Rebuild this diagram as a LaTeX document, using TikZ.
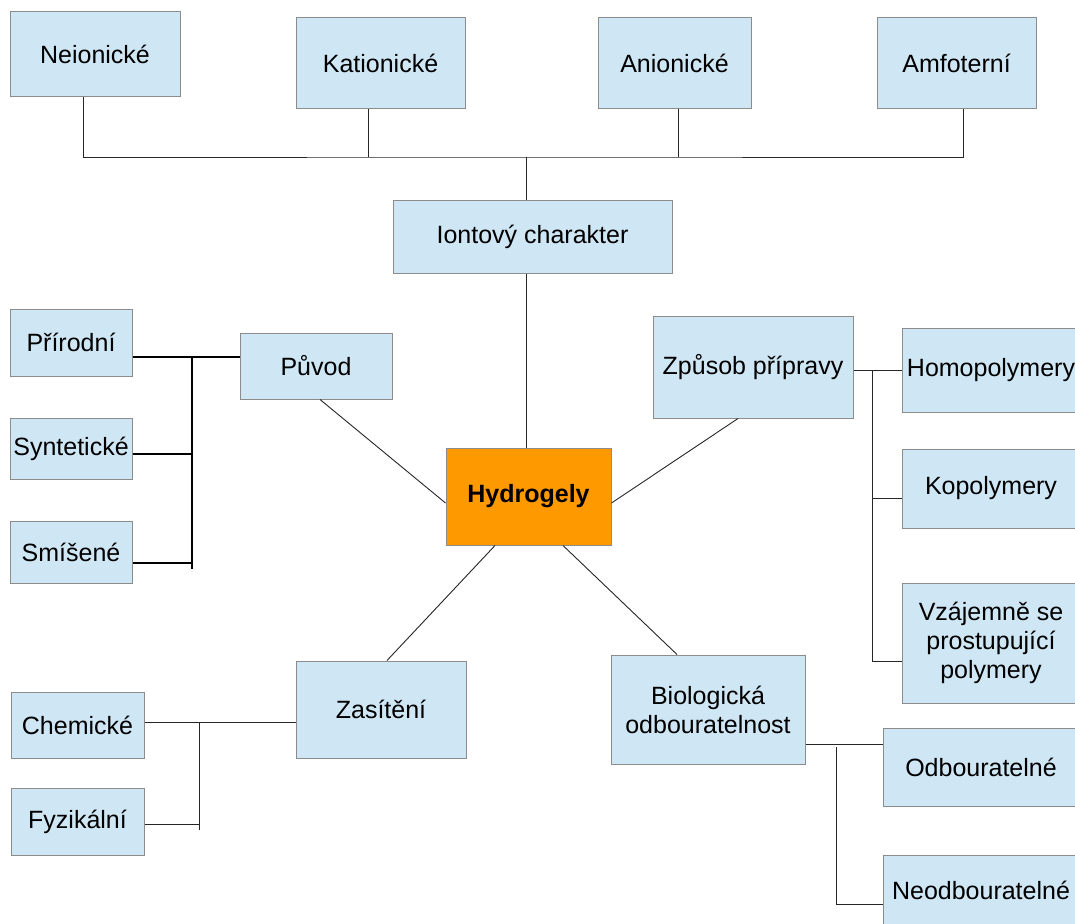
\documentclass[tikz,border=0pt]{standalone}
\usepackage{fontspec}
\setmainfont{Liberation Sans}
\definecolor{boxblue}{RGB}{207,230,244}
\definecolor{boxedge}{RGB}{140,140,140}
\definecolor{hydroorange}{RGB}{255,153,0}
\tikzset{
  pojem/.style={draw=boxedge, line width=1pt, fill=boxblue, inner sep=0pt, align=center, font=\fontsize{25}{29}\selectfont},
  spoj/.style={line width=0.9pt, black!85},
  zavorka/.style={line width=1.6pt, black},
}
\begin{document}
\begin{tikzpicture}[x=1pt,y=-1pt]
  \useasboundingbox (0,0) rectangle (1075,923);
  \fill[white] (0,0) rectangle (1075,923);
  \clip (0,0) rectangle (1075,923);

  %%%%%%% NODES
  \node[pojem, minimum width=170, minimum height=85] (neion) at (95,54.5) {Neionické};
  \node[pojem, minimum width=169, minimum height=91] (kation) at (380.5,63.5) {Kationické};
  \node[pojem, minimum width=153, minimum height=91] (anion) at (674.5,63.5) {Anionické};
  \node[pojem, minimum width=159, minimum height=91] (amfot) at (956.5,63.5) {Amfoterní};
  \node[pojem, minimum width=279, minimum height=73] (iont) at (532.5,236.5) {Iontový charakter};
  \node[pojem, fill=hydroorange, minimum width=165, minimum height=97, font=\fontsize{25}{29}\selectfont\bfseries] (hydro) at (528.5,496.5) {Hydrogely};

  \node[pojem, minimum width=152, minimum height=66] (puvod) at (316,366) {Původ};
  \node[pojem, minimum width=122, minimum height=67] (prir) at (71,342.5) {Přírodní};
  \node[pojem, minimum width=122, minimum height=61] (synt) at (71,448.5) {Syntetické};
  \node[pojem, minimum width=122, minimum height=62] (smis) at (71,552) {Smíšené};

  \node[pojem, minimum width=200, minimum height=102] (zpusob) at (753,367) {Způsob přípravy};
  \node[pojem, minimum width=178, minimum height=84] (homo) at (991,370) {Homopolymery};
  \node[pojem, minimum width=178, minimum height=79] (kopol) at (991,488.5) {Kopolymery};
  \node[pojem, minimum width=178, minimum height=120] (vzaj) at (991,643) {Vzájemně se\\ prostupující\\ polymery};

  \node[pojem, minimum width=170, minimum height=97] (zasit) at (381,709.5) {Zasítění};
  \node[pojem, minimum width=133, minimum height=66] (chem) at (77.5,725) {Chemické};
  \node[pojem, minimum width=133, minimum height=67] (fyz) at (77.5,821.5) {Fyzikální};

  \node[pojem, minimum width=194, minimum height=109] (bio) at (708,709.5) {Biologická\\ odbouratelnost};
  \node[pojem, minimum width=196, minimum height=78] (odb) at (981,767) {Odbouratelné};
  \node[pojem, minimum width=196, minimum height=70] (neodb) at (981,890) {Neodbouratelné};

  %%%%%%% IONTOVY CHARAKTER
  \coordinate (bus) at (526,157);
  \draw[spoj] (iont.north -| bus) -- (bus);
  \draw[spoj] ([xshift=-12pt]neion.south) |- (bus) -| ([xshift=6.5pt]amfot.south);
  \draw[spoj] ([xshift=-12.5pt]kation.south) -- ([xshift=-12.5pt]kation.south |- bus);
  \draw[spoj] ([xshift=3.5pt]anion.south) -- ([xshift=3.5pt]anion.south |- bus);
  \draw[spoj] (iont.south -| bus) -- (hydro.north -| bus);

  %%%%%%% PUVOD
  \coordinate (pvbar) at (192,357);
  \coordinate (pvend) at (192,569);
  \draw[zavorka] (prir.east |- pvbar) -- (puvod.west |- pvbar);
  \draw[zavorka] (pvbar) -- (pvend);
  \draw[zavorka] ([yshift=-5.5pt]synt.east) -- ([yshift=-5.5pt]synt.east -| pvbar);
  \draw[zavorka] ([yshift=-11pt]smis.east) -- ([yshift=-11pt]smis.east -| pvbar);
  \draw[spoj] ([xshift=4pt]puvod.south) -- ([yshift=-6.5pt]hydro.west);

  %%%%%%% ZPUSOB PRIPRAVY
  \coordinate (zpbar) at (872,370);
  \coordinate (zpend) at (872,661);
  \draw[spoj] (zpusob.east |- zpbar) -- (homo.west |- zpbar);
  \draw[spoj] (zpbar) -- (zpend) -- (vzaj.west |- zpend);
  \draw[spoj] ([yshift=-9.5pt]kopol.west) -- ([yshift=-9.5pt]kopol.west -| zpbar);
  \draw[spoj] ([xshift=-15pt]zpusob.south) -- ([yshift=-6.5pt]hydro.east);

  %%%%%%% ZASITENI
  \coordinate (zsbar) at (199,722);
  \coordinate (zsend) at (199,830);
  \draw[spoj] (chem.east |- zsbar) -- (zasit.west |- zsbar);
  \draw[spoj] (zsbar) -- (zsend);
  \draw[spoj] ([yshift=-2.5pt]fyz.east) -- ([yshift=-2.5pt]fyz.east -| zsbar);
  \draw[spoj] ([xshift=-33.5pt]hydro.south) -- ([xshift=6pt]zasit.north);

  %%%%%%% BIOLOGICKA ODBOURATELNOST
  \coordinate (bobar) at (836,747);
  \coordinate (boend) at (836,904);
  \draw[spoj] ([yshift=-34.5pt]bio.east) -- ([yshift=-34.5pt]bio.east -| odb.west);
  \draw[spoj] (bobar) -- (boend) -- (neodb.west |- boend);
  \draw[spoj] ([xshift=34.5pt]hydro.south) -- ([xshift=-31pt]bio.north);
\end{tikzpicture}
\end{document}
